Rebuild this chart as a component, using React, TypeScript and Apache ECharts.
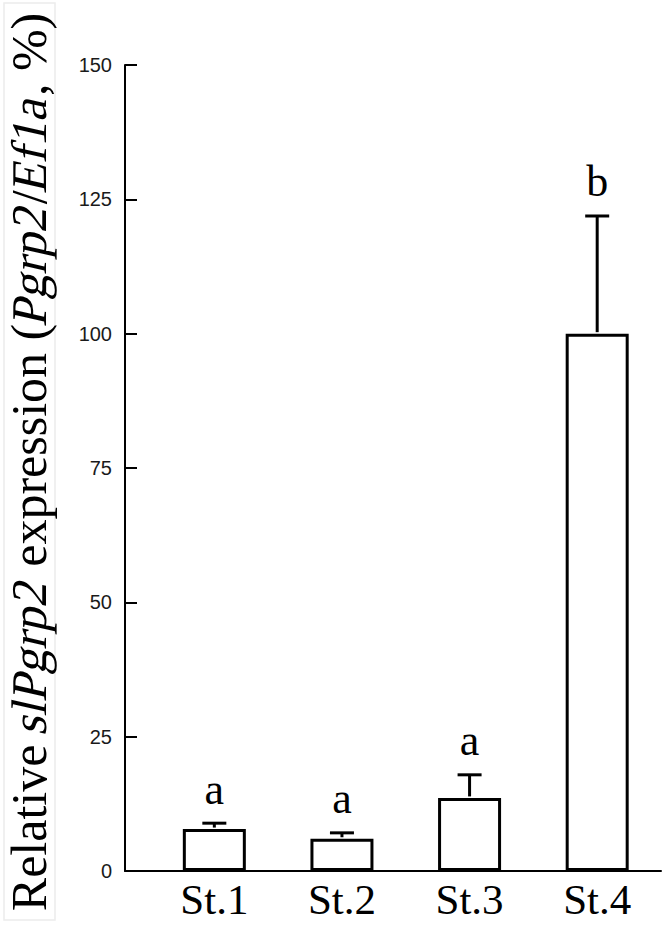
import React, { useEffect, useRef } from "react";
import * as echarts from "echarts";

const categories = ["St.1", "St.2", "St.3", "St.4"];
const positions = [1, 2, 3, 4];
const means = [7.8, 6.0, 13.6, 100];
const errorTops = [8.9, 7.1, 17.9, 121.9];
const letters = ["a", "a", "a", "b"];
const yTicks = [0, 25, 50, 75, 100, 125, 150];
const titleParts: [string, boolean][] = [
  ["Relative ", false],
  ["slPgrp2", true],
  [" expression (", false],
  ["Pgrp2", true],
  ["/", false],
  ["Ef1a", true],
  [", %)", false],
];

export default function App() {
  const ref = useRef<HTMLDivElement>(null);
  useEffect(() => {
    if (!ref.current) return;
    const chart = echarts.init(ref.current, null, { renderer: "svg" });
    const barData = positions.map((p, i) => [p, means[i]]);
    const errData = positions.map((p, i) => [p, means[i], errorTops[i], i]);
    const serif = "'Liberation Serif', 'Times New Roman', 'DejaVu Serif', serif";
    const titleSize = 50;

    // measure title segments to lay them out with a synthetic italic slant
    const cv = document.createElement("canvas");
    const ctx = cv.getContext("2d")!;
    ctx.font = `${titleSize}px ${serif}`;
    const widths = titleParts.map(([t]) => ctx.measureText(t).width);
    const total = widths.reduce((a, b) => a + b, 0);
    let off = -total / 2;
    const titleChildren = titleParts.map(([t, it], i) => {
      const el: any = {
        type: "text",
        x: off,
        y: 0,
        style: {
          text: t,
          fontFamily: serif,
          fontSize: titleSize,
          fill: "#000",
          align: "left",
          verticalAlign: "middle",
        },
      };
      if (it) el.skewX = -0.22;
      off += widths[i];
      return el;
    });

    chart.setOption({
      animation: false,
      backgroundColor: "#ffffff",
      grid: { left: 125, right: 1, top: 65, bottom: 55, containLabel: false },
      xAxis: {
        type: "value",
        min: 0.3,
        max: 4.5,
        splitLine: { show: false },
        axisLine: { show: true, onZero: false, lineStyle: { color: "#000", width: 2 } },
        axisTick: { show: false },
        axisLabel: {
          customValues: positions,
          formatter: (v: number) => categories[Math.round(v) - 1] ?? "",
          fontFamily: serif,
          fontSize: 43,
          color: "#000",
          margin: 6,
          lineHeight: 44,
        },
      },
      yAxis: {
        type: "value",
        min: 0,
        max: 150,
        interval: 25,
        splitLine: { show: false },
        axisLine: { show: true, lineStyle: { color: "#000", width: 2 } },
        axisTick: { show: true, inside: true, length: 12, lineStyle: { color: "#000", width: 2 } },
        axisLabel: {
          customValues: yTicks,
          fontFamily: "Liberation Sans",
          fontSize: 20,
          color: "#1a1a1a",
          margin: 13,
        },
      },
      graphic: [
        {
          type: "rect",
          shape: { x: 4, y: 3, width: 51, height: 917 },
          style: { fill: "none", stroke: "#ececec", lineWidth: 1.5 },
          z: 0,
        },
        {
          type: "group",
          x: 29,
          y: 462,
          rotation: Math.PI / 2,
          children: titleChildren,
          z: 10,
        },
      ],
      series: [
        {
          type: "bar",
          data: barData,
          barWidth: 63,
          itemStyle: { color: "#fff", borderColor: "#000", borderWidth: 3 },
          z: 2,
        },
        {
          type: "custom",
          data: errData,
          z: 3,
          renderItem: (params: any, api: any) => {
            const x = api.value(0);
            const m = api.value(1);
            const e = api.value(2);
            const idx = api.value(3);
            const pTop = api.coord([x, e]);
            const pMean = api.coord([x, m]);
            const half = 12;
            return {
              type: "group",
              children: [
                {
                  type: "line",
                  shape: { x1: pTop[0], y1: pTop[1], x2: pMean[0], y2: pMean[1] - 1.5 },
                  style: { stroke: "#000", lineWidth: 3 },
                },
                {
                  type: "line",
                  shape: { x1: pTop[0] - half, y1: pTop[1], x2: pTop[0] + half, y2: pTop[1] },
                  style: { stroke: "#000", lineWidth: 3 },
                },
                {
                  type: "text",
                  x: pTop[0],
                  y: pTop[1] - 12,
                  style: {
                    text: letters[idx],
                    fontFamily: serif,
                    fontSize: 44,
                    fill: "#000",
                    align: "center",
                    verticalAlign: "bottom",
                  },
                },
              ],
            };
          },
        },
      ],
    });
    return () => chart.dispose();
  }, []);
  return <div ref={ref} style={{ width: 662, height: 926, position: "fixed", left: 0, top: 0 }} />;
}
